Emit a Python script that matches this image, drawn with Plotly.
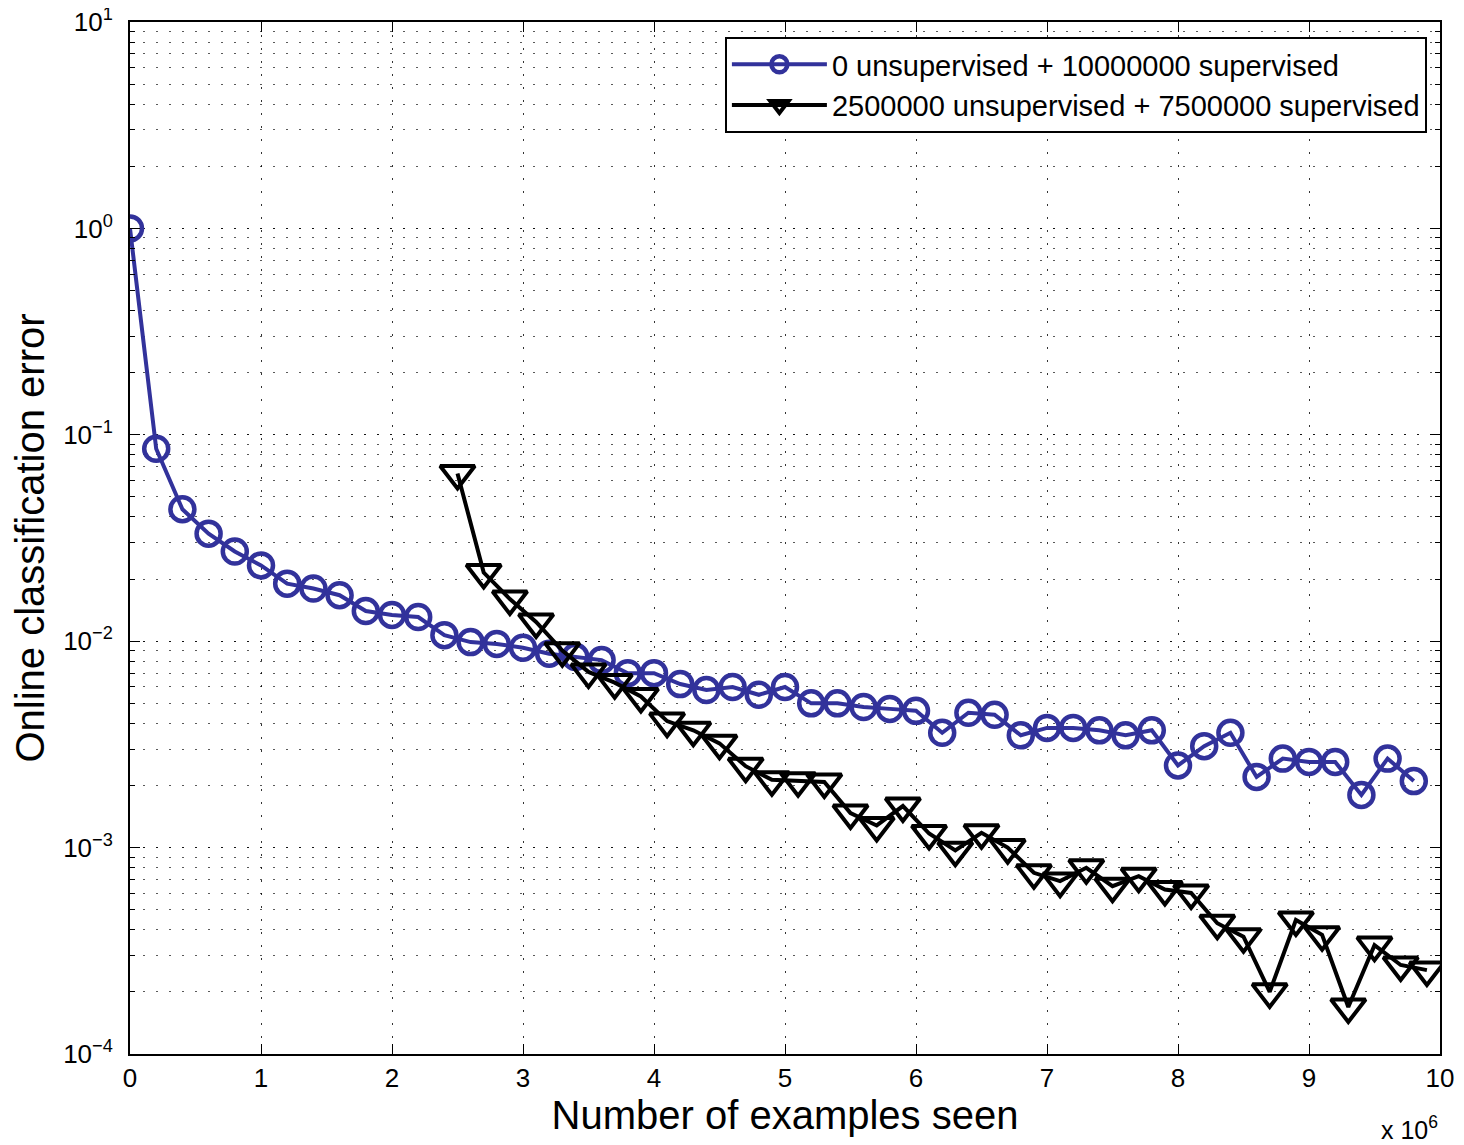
import plotly.graph_objects as go

# Number of examples seen (in units of 10^6)
x_sup_only = [0.0, 0.2, 0.4, 0.6, 0.8, 1.0, 1.2, 1.4, 1.6, 1.8,
              2.0, 2.2, 2.4, 2.6, 2.8, 3.0, 3.2, 3.4, 3.6, 3.8,
              4.0, 4.2, 4.4, 4.6, 4.8, 5.0, 5.2, 5.4, 5.6, 5.8,
              6.0, 6.2, 6.4, 6.6, 6.8, 7.0, 7.2, 7.4, 7.6, 7.8,
              8.0, 8.2, 8.4, 8.6, 8.8, 9.0, 9.2, 9.4, 9.6, 9.8]
err_sup_only = [1.0, 0.0856, 0.0436, 0.0332, 0.0272, 0.0233, 0.0190, 0.0180, 0.0167, 0.0140,
                0.0134, 0.0131, 0.0107, 0.0099, 0.0097, 0.0093, 0.0087, 0.0084, 0.0081, 0.0070,
                0.0070, 0.0062, 0.0058, 0.0060, 0.0055, 0.0060, 0.0050, 0.0050, 0.0048, 0.0047,
                0.0046, 0.0036, 0.0045, 0.0044, 0.0035, 0.0038, 0.0038, 0.0037, 0.0035, 0.0037,
                0.0025, 0.0031, 0.0036, 0.0022, 0.0027, 0.0026, 0.0026, 0.0018, 0.0027, 0.0021]

x_pretrain = [2.5, 2.7, 2.9, 3.1, 3.3, 3.5, 3.7, 3.9, 4.1, 4.3,
              4.5, 4.7, 4.9, 5.1, 5.3, 5.5, 5.7, 5.9, 6.1, 6.3,
              6.5, 6.7, 6.9, 7.1, 7.3, 7.5, 7.7, 7.9, 8.1, 8.3,
              8.5, 8.7, 8.9, 9.1, 9.3, 9.5, 9.7, 9.9]
err_pretrain = [0.0650, 0.0215, 0.0160, 0.0124, 0.0090, 0.0071, 0.0063, 0.0054, 0.0041, 0.0037,
                0.0032, 0.00248, 0.00213, 0.00211, 0.00208, 0.00147, 0.00128, 0.00159, 0.00117, 0.00097,
                0.00118, 0.00100, 0.000755, 0.000688, 0.000798, 0.00065, 0.000727, 0.000627, 0.000603, 0.00043,
                0.00037, 0.000200, 0.000446, 0.000378, 0.000169, 0.000337, 0.000270, 0.000255]

series_names = ["0 unsupervised + 10000000 supervised",
                "2500000 unsupervised + 7500000 supervised"]

x_tick_vals = [0, 1, 2, 3, 4, 5, 6, 7, 8, 9, 10]
x_tick_text = ["0", "1", "2", "3", "4", "5", "6", "7", "8", "9", "10"]
y_tick_vals = [1e-4, 1e-3, 1e-2, 1e-1, 1e0, 1e1]
y_tick_text = ["10<sup>−4</sup>", "10<sup>−3</sup>", "10<sup>−2</sup>",
               "10<sup>−1</sup>", "10<sup>0</sup>", "10<sup>1</sup>"]

BLUE = "#32329b"
FONT = "Liberation Sans, Arial, sans-serif"

fig = go.Figure()
fig.add_trace(go.Scatter(
    x=x_sup_only, y=err_sup_only, name=series_names[0], mode="lines+markers",
    line=dict(color=BLUE, width=4),
    marker=dict(symbol="circle-open", size=24, color=BLUE, line=dict(width=4.5, color=BLUE)),
))
fig.add_trace(go.Scatter(
    x=x_pretrain, y=err_pretrain, name=series_names[1], mode="lines+markers",
    line=dict(color="black", width=4),
    marker=dict(symbol="triangle-down-open", size=30, color="black", line=dict(width=4, color="black")),
))

grid_dash = "2px,11px"
# page body has an 8px default margin, so the figure is sized/margined to compensate
fig.update_layout(
    width=1456, height=1137,
    margin=dict(l=122, r=24, t=14, b=91),
    paper_bgcolor="white", plot_bgcolor="white",
    font=dict(family=FONT, color="black", size=26),
    legend=dict(x=0.99, y=0.9855, xanchor="right", yanchor="top",
                bgcolor="white", bordercolor="black", borderwidth=2,
                font=dict(size=29, family=FONT), itemwidth=95,
                tracegroupgap=0),
    showlegend=True,
)
fig.update_xaxes(
    range=[0, 10], tickvals=x_tick_vals, ticktext=x_tick_text, automargin=False,
    ticks="inside", ticklen=10, tickwidth=1, tickcolor="black", ticklabeloverflow="allow",
    showline=True, linecolor="black", linewidth=2, mirror="allticks",
    showgrid=True, gridcolor="rgba(0,0,0,0.8)", gridwidth=1, griddash=grid_dash,
    zeroline=False,
    title=dict(text="Number of examples seen", font=dict(size=40, family=FONT), standoff=8),
    tickfont=dict(size=26),
)
fig.update_yaxes(
    type="log", range=[-4, 1], tickvals=y_tick_vals, ticktext=y_tick_text, automargin=False,
    ticks="inside", ticklen=10, tickwidth=1, tickcolor="black", ticklabelstandoff=10,
    ticklabeloverflow="allow",
    showline=True, linecolor="black", linewidth=2, mirror="allticks",
    showgrid=True, gridcolor="rgba(0,0,0,0.8)", gridwidth=1, griddash=grid_dash,
    zeroline=False,
    minor=dict(ticks="inside", ticklen=5, tickcolor="black", dtick="D1",
               showgrid=True, gridcolor="rgba(0,0,0,0.65)", gridwidth=1, griddash=grid_dash),
    title=dict(text="Online classification error", font=dict(size=40, family=FONT), standoff=6),
    tickfont=dict(size=26),
)
fig.add_annotation(
    text="x 10<sup>6</sup>", xref="paper", yref="paper", x=1.0, y=0, yshift=-56,
    xanchor="right", yanchor="top", showarrow=False, font=dict(size=25, family=FONT),
)
# let the top tick label (10^1) draw into the page margin instead of being clipped
post_js = ("document.querySelectorAll('svg.main-svg').forEach(function(s){s.style.overflow='visible';});"
           "document.querySelectorAll('.svg-container').forEach(function(c){c.style.overflow='visible';});")
fig.write_html("out.html", post_script=post_js)
